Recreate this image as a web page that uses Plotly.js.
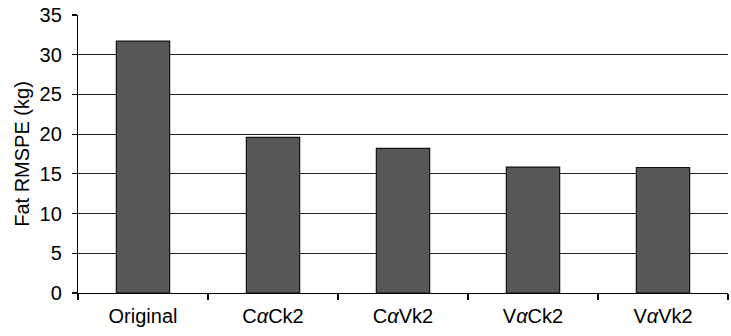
<!DOCTYPE html>
<html><head><meta charset="utf-8">
<script src="https://cdn.plot.ly/plotly-3.0.1.min.js"></script>
<style>body{margin:0;padding:0;background:#fff}#c{width:731px;height:336px}</style>
</head><body><div id="c"></div>
<script>
const categories = ["Original", "C<i>α</i>Ck2", "C<i>α</i>Vk2", "V<i>α</i>Ck2", "V<i>α</i>Vk2"];
const values = [31.7, 19.6, 18.2, 15.85, 15.8];
const yTicks = [0, 5, 10, 15, 20, 25, 30, 35];

Plotly.newPlot('c', [{
  type: 'bar',
  x: categories,
  y: values,
  marker: {color: '#575757', line: {color: '#111', width: 1.2}},
  width: 0.41
}], {
  width: 731, height: 336,
  margin: {l: 78, r: 3, t: 15, b: 43},
  paper_bgcolor: '#fff', plot_bgcolor: '#fff',
  font: {family: 'Liberation Sans, Arial, sans-serif', color: '#000', size: 20},
  showlegend: false,
  xaxis: {
    type: 'category',
    tickson: 'boundaries',
    ticks: 'outside', ticklen: 6, tickcolor: '#000', tickwidth: 1.2,
    showline: true, linecolor: '#000', linewidth: 1.2,
    showgrid: false, zeroline: false,
    ticklabelstandoff: 5,
    tickfont: {size: 20}
  },
  yaxis: {
    range: [0, 35],
    tickvals: yTicks,
    ticks: 'outside', ticklen: 5, tickcolor: '#000', tickwidth: 1.2,
    showline: true, linecolor: '#000', linewidth: 1.2,
    showgrid: true, gridcolor: '#222', gridwidth: 1.2,
    zeroline: false,
    tickfont: {size: 20},
    ticklabelstandoff: 6,
    title: {text: 'Fat RMSPE (kg)', font: {size: 20}, standoff: 4}
  }
}, {staticPlot: true});
</script></body></html>
